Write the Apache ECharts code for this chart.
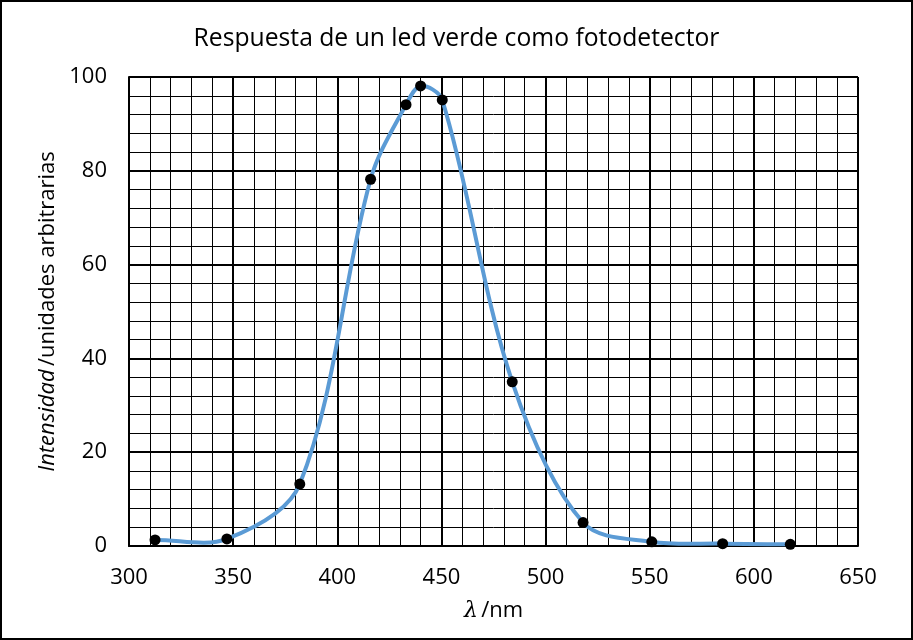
<!DOCTYPE html>
<html>
<head>
<meta charset="utf-8">
<script src="https://cdn.jsdelivr.net/npm/echarts@6/dist/echarts.min.js"></script>
<style>
html,body{margin:0;padding:0;background:#fff;}
#chart{width:913px;height:640px;}
</style>
</head>
<body>
<div id="chart"></div>
<script>
// Data
const wavelengths = [312.5, 347, 382, 416, 433, 440, 450.4, 484, 518, 551, 585, 617.5];
const intensities = [1.3, 1.5, 13.2, 78.2, 94.1, 98.1, 95.1, 35.0, 5.0, 0.9, 0.5, 0.35];
const xTicks = [300, 350, 400, 450, 500, 550, 600, 650];
const yTicks = [0, 20, 40, 60, 80, 100];

const FONT = 'Open Sans';
const chart = echarts.init(document.getElementById('chart'));
const points = wavelengths.map((x, i) => [x, intensities[i]]);

function dist(a, b) { return Math.hypot(b[0] - a[0], b[1] - a[1]); }

// Smooth curve through the data points (chord-length scaled tangents), in pixel space
function renderCurve(params, api) {
  if (params.dataIndex !== 0) return null;
  const p = points.map(d => api.coord(d));
  const n = p.length;
  const cpIn = [], cpOut = [];
  for (let i = 0; i < n; i++) {
    if (i === 0) {
      cpOut[i] = [p[0][0] + (p[1][0] - p[0][0]) / 3, p[0][1] + (p[1][1] - p[0][1]) / 3];
      continue;
    }
    if (i === n - 1) {
      cpIn[i] = [p[i][0] - (p[i][0] - p[i - 1][0]) / 3, p[i][1] - (p[i][1] - p[i - 1][1]) / 3];
      continue;
    }
    const v = [p[i + 1][0] - p[i - 1][0], p[i + 1][1] - p[i - 1][1]];
    const d0 = dist(p[i - 1], p[i]), d1 = dist(p[i], p[i + 1]);
    const s = d0 + d1 || 1;
    const fIn = d0 / s / 3, fOut = d1 / s / 3;
    cpIn[i] = [p[i][0] - v[0] * fIn, p[i][1] - v[1] * fIn];
    cpOut[i] = [p[i][0] + v[0] * fOut, p[i][1] + v[1] * fOut];
  }
  const children = [];
  for (let i = 0; i < n - 1; i++) {
    children.push({
      type: 'bezierCurve',
      shape: {
        x1: p[i][0], y1: p[i][1],
        x2: p[i + 1][0], y2: p[i + 1][1],
        cpx1: cpOut[i][0], cpy1: cpOut[i][1],
        cpx2: cpIn[i + 1][0], cpy2: cpIn[i + 1][1]
      },
      style: { fill: null, stroke: '#5B9BD5', lineWidth: 4, lineCap: 'round' }
    });
  }
  return { type: 'group', children: children };
}

chart.setOption({
  backgroundColor: '#fff',
  animation: false,
  title: {
    text: 'Respuesta de un led verde como fotodetector',
    left: 'center',
    top: 21,
    textStyle: { fontFamily: FONT, fontSize: 24.7, fontWeight: 'normal', color: '#000' }
  },
  graphic: [{
    type: 'rect',
    shape: { x: 1, y: 1, width: 911, height: 638 },
    style: { fill: 'none', stroke: '#000', lineWidth: 2 },
    silent: true
  }],
  grid: { left: 129, right: 55, top: 77, bottom: 94 },
  xAxis: {
    type: 'value',
    min: xTicks[0],
    max: xTicks[xTicks.length - 1],
    interval: 50,
    name: '{i|λ} {n|/nm}',
    nameLocation: 'middle',
    nameGap: 54,
    nameTextStyle: {
      rich: {
        i: { fontFamily: 'DejaVu Serif', fontStyle: 'italic', fontSize: 22, color: '#000' },
        n: { fontFamily: FONT, fontSize: 22, color: '#000' }
      }
    },
    axisLine: { show: true, lineStyle: { color: '#000', width: 2 } },
    axisTick: { show: false },
    axisLabel: { fontFamily: FONT, fontSize: 22, color: '#000', margin: 21 },
    splitLine: { show: true, lineStyle: { color: '#000', width: 2 } },
    minorTick: { show: false, splitNumber: 5 },
    minorSplitLine: { show: true, lineStyle: { color: '#000', width: 1 } }
  },
  yAxis: {
    type: 'value',
    min: yTicks[0],
    max: yTicks[yTicks.length - 1],
    interval: 20,
    name: '{i|Intensidad} {n|/unidades arbitrarias}',
    nameLocation: 'middle',
    nameRotate: 90,
    nameGap: 70,
    nameTextStyle: {
      rich: {
        i: { fontFamily: FONT, fontStyle: 'italic', fontSize: 22, color: '#000' },
        n: { fontFamily: FONT, fontSize: 22, color: '#000' }
      }
    },
    axisLine: { show: true, lineStyle: { color: '#000', width: 2 } },
    axisTick: { show: false },
    axisLabel: { fontFamily: FONT, fontSize: 22, color: '#000', margin: 22 },
    splitLine: { show: true, lineStyle: { color: '#000', width: 2 } },
    minorTick: { show: false, splitNumber: 5 },
    minorSplitLine: { show: true, lineStyle: { color: '#000', width: 1 } }
  },
  series: [{
    type: 'custom',
    data: points,
    renderItem: renderCurve,
    encode: { x: 0, y: 1 },
    z: 5,
    silent: true
  }, {
    type: 'scatter',
    data: points,
    symbol: 'circle',
    symbolSize: 11,
    itemStyle: { color: '#000', opacity: 1 },
    z: 6
  }]
});
</script>
</body>
</html>
